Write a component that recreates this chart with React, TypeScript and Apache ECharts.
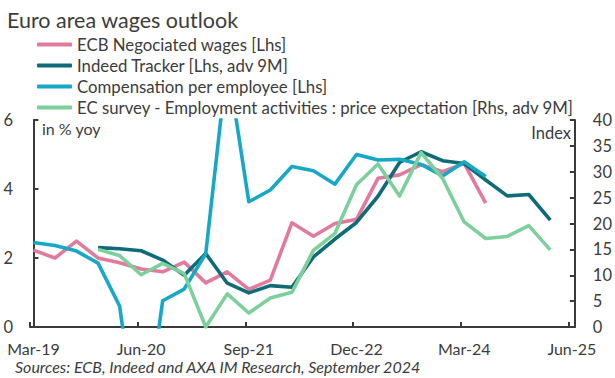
import React, { useEffect, useRef } from "react";
import * as echarts from "echarts";

const quarters = [
  "Mar-19", "Jun-19", "Sep-19", "Dec-19",
  "Mar-20", "Jun-20", "Sep-20", "Dec-20",
  "Mar-21", "Jun-21", "Sep-21", "Dec-21",
  "Mar-22", "Jun-22", "Sep-22", "Dec-22",
  "Mar-23", "Jun-23", "Sep-23", "Dec-23",
  "Mar-24", "Jun-24", "Sep-24", "Dec-24",
  "Mar-25", "Jun-25",
];

const ecbNegotiated = [
  2.23, 2.0, 2.49, 2.0, 1.86, 1.68, 1.6, 1.88, 1.28, 1.6, 1.09, 1.36,
  3.02, 2.63, 3.0, 3.12, 4.31, 4.41, 4.71, 4.5, 4.74, 3.59, null, null, null, null,
];
const indeedTracker = [
  null, null, null, 2.3, 2.27, 2.21, 1.94, 1.5, 2.13, 1.27, 0.99, 1.2,
  1.15, 2.03, 2.55, 3.03, 3.79, 4.77, 5.08, 4.82, 4.74, 4.26, 3.8, 3.84, 3.1, null,
];
const compensation = [
  2.45, 2.36, 2.2, 1.85, 0.61, -3.8, 0.76, 1.1, 2.12, 7.7, 3.63, 3.97,
  4.65, 4.53, 4.14, 5.0, 4.84, 4.86, 4.71, 4.38, 4.79, 4.36, null, null, null, null,
];
const ecSurvey = [
  null, null, null, 15.0, 13.8, 10.1, 12.3, 10.3, 0.0, 6.4, 2.7, 5.6,
  6.7, 14.8, 18.1, 27.5, 31.5, 25.3, 33.7, 28.7, 20.3, 17.1, 17.5, 19.6, 14.9, null,
];

const leftTicks = [0, 2, 4, 6];
const rightTicks = [0, 5, 10, 15, 20, 25, 30, 35, 40];
const labelEvery = 5;

const FONT = "Lato";
const TXT = "#3c3c3c";
const AXIS = "#3a3a3a";

function toPairs(arr: (number | null)[]) {
  return arr.map((v, i) => [i, v]);
}

export default function App() {
  const ref = useRef<HTMLDivElement>(null);
  useEffect(() => {
    if (!ref.current) return;
    const chart = echarts.init(ref.current, undefined, { renderer: "svg" });
    const labelIdx = quarters.map((_, i) => i).filter((i) => i % labelEvery === 0);
    const lineSeries = (name: string, data: (number | null)[], color: string, yAxisIndex: number) => ({
      name,
      type: "line",
      yAxisIndex,
      data: toPairs(data),
      symbol: "none",
      connectNulls: false,
      lineStyle: { color, width: 3.6, join: "round" },
      itemStyle: { color },
      clip: true,
    });
    chart.setOption({
      animation: false,
      textStyle: { fontFamily: FONT },
      title: {
        text: "Euro area wages outlook",
        left: 2,
        top: 4,
        textStyle: { fontFamily: FONT, fontSize: 21.5, fontWeight: "normal", color: TXT },
      },
      legend: {
        orient: "vertical",
        left: 37,
        top: 36,
        padding: 0,
        itemWidth: 35,
        itemHeight: 4,
        itemGap: 4,
        icon: "roundRect",
        textStyle: { fontFamily: FONT, fontSize: 16.8, color: TXT, lineHeight: 17 },
        data: [
          "ECB Negociated wages [Lhs]",
          "Indeed Tracker [Lhs, adv 9M]",
          "Compensation per employee [Lhs]",
          "EC survey - Employment activities : price expectation [Rhs, adv 9M]",
        ],
      },
      grid: { left: 30, right: 39, top: 120, bottom: 51 },
      xAxis: {
        type: "value",
        min: -0.16,
        max: 25.14,
        axisLine: { show: true, onZero: false, lineStyle: { color: AXIS, width: 2 } },
        axisTick: {
          show: true,
          inside: true,
          length: 5,
          lineStyle: { color: AXIS, width: 2 },
          customValues: labelIdx.map((i) => i - 0.16),
        },
        axisLabel: {
          customValues: labelIdx,
          formatter: (v: number) => quarters[Math.round(v)] ?? "",
          fontFamily: FONT,
          fontSize: 16,
          color: TXT,
          margin: 13,
        },
        splitLine: { show: false },
      },
      yAxis: [
        {
          type: "value",
          min: leftTicks[0],
          max: leftTicks[leftTicks.length - 1],
          interval: 2,
          axisLine: { show: true, lineStyle: { color: AXIS, width: 2 } },
          axisTick: { show: true, inside: true, length: 5, lineStyle: { color: AXIS, width: 2 } },
          axisLabel: { fontFamily: FONT, fontSize: 16.5, color: TXT, margin: 17 },
          splitLine: { show: false },
        },
        {
          type: "value",
          position: "right",
          min: rightTicks[0],
          max: rightTicks[rightTicks.length - 1],
          interval: 5,
          axisLine: { show: true, lineStyle: { color: AXIS, width: 2 } },
          axisTick: { show: true, inside: true, length: 5, lineStyle: { color: AXIS, width: 2 } },
          axisLabel: { fontFamily: FONT, fontSize: 16.5, color: TXT, margin: 18 },
          splitLine: { show: false },
        },
      ],
      graphic: [
        {
          type: "text",
          left: 42,
          top: 120,
          style: { text: "in % yoy", font: `16px ${FONT}`, fill: TXT },
        },
        {
          type: "text",
          right: 44,
          top: 124,
          style: { text: "Index", font: `16.5px ${FONT}`, fill: TXT },
        },
        {
          type: "text",
          left: 15,
          top: 358,
          style: {
            text: "Sources: ECB, Indeed and AXA IM Research, September 2024",
            font: `italic 16px ${FONT}`,
            fill: TXT,
          },
        },
      ],
      series: [
        lineSeries("ECB Negociated wages [Lhs]", ecbNegotiated, "#E07B9C", 0),
        lineSeries("Indeed Tracker [Lhs, adv 9M]", indeedTracker, "#0F6B78", 0),
        lineSeries("Compensation per employee [Lhs]", compensation, "#17A8C5", 0),
        lineSeries("EC survey - Employment activities : price expectation [Rhs, adv 9M]", ecSurvey, "#7DD09B", 1),
      ],
    });
    return () => chart.dispose();
  }, []);
  return (
    <div
      ref={ref}
      style={{ position: "absolute", left: 0, top: 0, width: 615, height: 378 }}
    />
  );
}
